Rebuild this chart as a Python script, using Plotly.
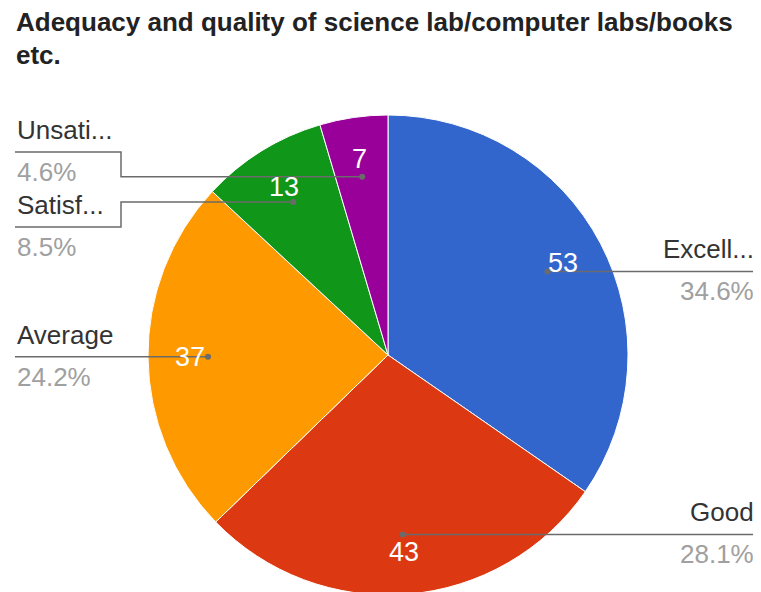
import math
import plotly.graph_objects as go

# ---- data ----
labels = ["Excellent", "Good", "Average", "Satisfactory", "Unsatisfactory"]
short_labels = ["Excell...", "Good", "Average", "Satisf...", "Unsati..."]
values = [53, 43, 37, 13, 7]
colors = ["#3366cc", "#dc3912", "#ff9900", "#109618", "#990099"]
title_lines = ["Adequacy and quality of science lab/computer labs/books", "etc."]

# ---- layout constants (pixels, in screen coordinates) ----
OFF = 8                 # page body margin in the browser
W, H = 761 - OFF, 592   # figure size
R = 240
CX, CY = 388, 355       # pie centre on screen
FONT = "Liberation Sans, Arial, sans-serif"


def px(x):
    return (x - OFF) / W


def py(y):
    return 1 - (y - OFF) / H


def text(x, y, s, size, color, xanchor="center"):
    return dict(x=px(x), y=py(y), xref="paper", yref="paper", text=s,
                showarrow=False, xanchor=xanchor, yanchor="middle",
                font=dict(family=FONT, size=size, color=color))


fig = go.Figure(
    go.Pie(
        labels=labels,
        values=values,
        sort=False,
        direction="clockwise",
        rotation=0,
        marker=dict(colors=colors, line=dict(color="white", width=1)),
        textinfo="none",
        hoverinfo="label+value+percent",
        showlegend=False,
        domain=dict(x=[px(CX - R), px(CX + R)], y=[py(CY + R), py(CY - R)]),
    )
)

total = sum(values)
shapes = []
annotations = []

# label row placement for left-side labels (line y in px); None = use dot y
left_rows = {"Average": None, "Satisfactory": 227, "Unsatisfactory": 152}
ELBOW_X = 121
LEFT_X = 15
RIGHT_X = 758
LINE_COL = "#6b6b6b"

cum = 0
for lab, short, v in zip(labels, short_labels, values):
    mid = (cum + v / 2) / total * 2 * math.pi
    cum += v
    sx, sy = math.sin(mid), -math.cos(mid)
    # leader dot
    dx, dy = CX + 0.75 * R * sx, CY + 0.75 * R * sy
    shapes.append(dict(type="circle", xref="paper", yref="paper",
                       x0=px(dx - 3), x1=px(dx + 3), y0=py(dy - 3), y1=py(dy + 3),
                       fillcolor=LINE_COL, line=dict(width=0)))
    pct = f"{100 * v / total:.1f}%"
    if sx > 0:
        ly = dy
        path = f"M {px(dx)},{py(dy)} L {px(RIGHT_X)},{py(ly)}"
        xa, xanchor = RIGHT_X - 2, "right"
    else:
        ly = left_rows.get(lab) or dy
        if abs(ly - dy) < 1:
            path = f"M {px(dx)},{py(dy)} L {px(LEFT_X)},{py(ly)}"
        else:
            path = (f"M {px(dx)},{py(dy)} L {px(ELBOW_X)},{py(dy)} "
                    f"L {px(ELBOW_X)},{py(ly)} L {px(LEFT_X)},{py(ly)}")
        xa, xanchor = LEFT_X, "left"
    shapes.append(dict(type="path", xref="paper", yref="paper", path=path,
                       line=dict(color=LINE_COL, width=1.5)))
    annotations.append(text(xa, ly - 22, short, 26, "#333333", xanchor))
    annotations.append(text(xa, ly + 20, pct, 26, "#a0a0a0", xanchor))
    # value text inside slice
    tx, ty = CX + 0.825 * R * sx, CY + 0.825 * R * sy
    annotations.append(text(tx, ty, str(v), 27, "white"))

# title
for i, t in enumerate(title_lines):
    annotations.append(text(14, 22 + 33 * i, f"<b>{t}</b>", 26, "#222222", "left"))

fig.update_layout(
    width=W, height=H,
    margin=dict(l=0, r=0, t=0, b=0),
    paper_bgcolor="white",
    plot_bgcolor="white",
    shapes=shapes,
    annotations=annotations,
)

fig.write_html("out.html")
